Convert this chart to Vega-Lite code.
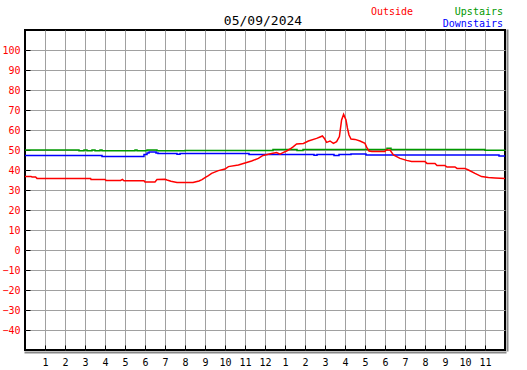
{
  "$schema": "https://vega.github.io/schema/vega-lite/v6.json",
  "width": 480,
  "height": 320,
  "autosize": {"type": "none"},
  "padding": {"left": 25, "top": 30, "right": 22, "bottom": 20},
  "background": "white",
  "config": {"view": {"stroke": "black", "strokeWidth": 2}, "font": "DejaVu Sans Mono"},
  "datasets": {
    "upstairs": [
      {"h": 0, "v": 50.0}, {"h": 2.7, "v": 49.6}, {"h": 2.95, "v": 50.0}, {"h": 3.1, "v": 49.6}, {"h": 3.35, "v": 50.0}, {"h": 3.5, "v": 49.6}, {"h": 3.75, "v": 50.0}, {"h": 3.85, "v": 49.6}, {"h": 5.5, "v": 50.0}, {"h": 5.6, "v": 49.6}, {"h": 6.1, "v": 50.0}, {"h": 6.6, "v": 49.6}, {"h": 8.0, "v": 49.8}, {"h": 12.4, "v": 50.3}, {"h": 13.6, "v": 49.8}, {"h": 13.9, "v": 50.3}, {"h": 18.1, "v": 50.9}, {"h": 18.3, "v": 50.3}, {"h": 23.0, "v": 49.9}, {"h": 24, "v": 49.9}
    ],
    "downstairs": [
      {"h": 0, "v": 47.3}, {"h": 3.85, "v": 46.8}, {"h": 5.95, "v": 47.8}, {"h": 6.1, "v": 48.5}, {"h": 6.2, "v": 49.0}, {"h": 6.55, "v": 48.5}, {"h": 6.65, "v": 48.2}, {"h": 7.6, "v": 47.9}, {"h": 7.75, "v": 48.2}, {"h": 11.2, "v": 47.8}, {"h": 14.45, "v": 47.4}, {"h": 14.6, "v": 47.8}, {"h": 15.45, "v": 47.3}, {"h": 15.7, "v": 47.8}, {"h": 16.3, "v": 48.0}, {"h": 17.05, "v": 47.5}, {"h": 23.7, "v": 47.0}, {"h": 24, "v": 47.0}
    ],
    "outside": [
      {"h": 0, "v": 36.8}, {"h": 0.3, "v": 36.8}, {"h": 0.35, "v": 36.5}, {"h": 0.53, "v": 36.5}, {"h": 0.6, "v": 35.8}, {"h": 3.28, "v": 35.8}, {"h": 3.3, "v": 35.3}, {"h": 4.0, "v": 35.3}, {"h": 4.05, "v": 34.8}, {"h": 4.78, "v": 34.8}, {"h": 4.87, "v": 35.3}, {"h": 4.95, "v": 34.6}, {"h": 5.95, "v": 34.6}, {"h": 6.0, "v": 34.0}, {"h": 6.5, "v": 34.0}, {"h": 6.6, "v": 35.2}, {"h": 7.0, "v": 35.4}, {"h": 7.1, "v": 35.0}, {"h": 7.3, "v": 34.4}, {"h": 7.6, "v": 33.7}, {"h": 8.4, "v": 33.8}, {"h": 8.7, "v": 34.5}, {"h": 8.85, "v": 35.2}, {"h": 9.0, "v": 36.2}, {"h": 9.17, "v": 37.2}, {"h": 9.33, "v": 38.3}, {"h": 9.67, "v": 39.7}, {"h": 10.0, "v": 40.5}, {"h": 10.17, "v": 41.7}, {"h": 10.67, "v": 42.5}, {"h": 11.0, "v": 43.5}, {"h": 11.33, "v": 44.5}, {"h": 11.67, "v": 45.8}, {"h": 11.9, "v": 47.3}, {"h": 12.33, "v": 48.3}, {"h": 12.58, "v": 48.7}, {"h": 12.75, "v": 47.9}, {"h": 12.9, "v": 48.7}, {"h": 13.08, "v": 49.5}, {"h": 13.25, "v": 50.5}, {"h": 13.42, "v": 51.7}, {"h": 13.58, "v": 53.0}, {"h": 13.92, "v": 53.3}, {"h": 14.17, "v": 54.5}, {"h": 14.58, "v": 55.8}, {"h": 14.75, "v": 56.5}, {"h": 14.87, "v": 57.0}, {"h": 14.97, "v": 55.8}, {"h": 15.08, "v": 53.8}, {"h": 15.25, "v": 54.5}, {"h": 15.42, "v": 53.3}, {"h": 15.58, "v": 54.2}, {"h": 15.72, "v": 56.7}, {"h": 15.83, "v": 65.0}, {"h": 15.93, "v": 67.8}, {"h": 16.05, "v": 65.0}, {"h": 16.12, "v": 61.0}, {"h": 16.2, "v": 57.5}, {"h": 16.3, "v": 55.5}, {"h": 16.5, "v": 55.3}, {"h": 16.75, "v": 54.5}, {"h": 17.0, "v": 53.3}, {"h": 17.1, "v": 51.0}, {"h": 17.2, "v": 49.5}, {"h": 17.35, "v": 49.2}, {"h": 18.0, "v": 49.2}, {"h": 18.05, "v": 50.0}, {"h": 18.25, "v": 50.0}, {"h": 18.42, "v": 47.5}, {"h": 18.75, "v": 45.8}, {"h": 19.08, "v": 44.8}, {"h": 19.33, "v": 44.2}, {"h": 20.0, "v": 44.2}, {"h": 20.1, "v": 43.3}, {"h": 20.5, "v": 43.3}, {"h": 20.6, "v": 42.2}, {"h": 21.0, "v": 42.2}, {"h": 21.1, "v": 41.5}, {"h": 21.5, "v": 41.5}, {"h": 21.6, "v": 40.8}, {"h": 22.0, "v": 40.8}, {"h": 22.17, "v": 40.0}, {"h": 22.5, "v": 38.3}, {"h": 22.83, "v": 36.7}, {"h": 23.17, "v": 36.2}, {"h": 23.5, "v": 36.0}, {"h": 24, "v": 35.7}
    ]
  },
  "layer": [
    {
      "data": {"name": "upstairs"},
      "mark": {"type": "line", "interpolate": "step-after", "color": "#009900", "strokeWidth": 1.5},
      "encoding": {
        "x": {"field": "h", "type": "quantitative", "scale": {"domain": [0, 24], "nice": false, "zero": false},
          "axis": {"values": [1,2,3,4,5,6,7,8,9,10,11,12,13,14,15,16,17,18,19,20,21,22,23], "labelExpr": "datum.value == 12 ? '12' : '' + (datum.value % 12)", "title": null, "grid": true, "gridColor": "#a0a0a0", "gridWidth": 1, "gridOpacity": 1, "domain": false, "ticks": true, "tickColor": "black", "tickSize": -5, "tickWidth": 1, "labelPadding": 12, "labelFont": "DejaVu Sans Mono", "labelFontSize": 10, "labelColor": "black", "labelFlush": false, "labelOverlap": false}},
        "y": {"field": "v", "type": "quantitative", "scale": {"domain": [-50, 110], "nice": false, "zero": false},
          "axis": {"values": [-40,-30,-20,-10,0,10,20,30,40,50,60,70,80,90,100], "title": null, "grid": true, "gridColor": "#a0a0a0", "gridWidth": 1, "gridOpacity": 1, "domain": false, "ticks": true, "tickColor": "black", "tickSize": -5, "tickWidth": 1, "labelPadding": 10, "labelFont": "DejaVu Sans Mono", "labelFontSize": 10, "labelColor": "red", "labelFlush": false, "labelOverlap": false}}
      }
    },
    {
      "data": {"name": "downstairs"},
      "mark": {"type": "line", "interpolate": "step-after", "color": "#0000ff", "strokeWidth": 1.5},
      "encoding": {
        "x": {"field": "h", "type": "quantitative", "axis": {"orient": "bottom", "offset": 2, "domain": true, "domainColor": "#888888", "domainWidth": 2, "domainCap": "square", "ticks": false, "labels": false, "grid": false, "title": null}},
        "y": {"field": "v", "type": "quantitative", "axis": {"orient": "right", "offset": 2, "domain": true, "domainColor": "#888888", "domainWidth": 2, "domainCap": "square", "ticks": false, "labels": false, "grid": false, "title": null}}
      }
    },
    {
      "data": {"name": "outside"},
      "mark": {"type": "line", "color": "#ff0000", "strokeWidth": 1.5},
      "encoding": {
        "x": {"field": "h", "type": "quantitative", "axis": null},
        "y": {"field": "v", "type": "quantitative", "axis": null}
      }
    },
    {
      "data": {"values": [{}]},
      "mark": {"type": "text", "text": "05/09/2024", "color": "black", "font": "DejaVu Sans Mono", "fontSize": 13, "align": "center", "baseline": "alphabetic"},
      "encoding": {"x": {"datum": 11.9, "type": "quantitative", "axis": null}, "y": {"datum": 112.5, "type": "quantitative", "axis": null}}
    },
    {
      "data": {"values": [{}]},
      "mark": {"type": "text", "text": "Outside", "color": "red", "font": "DejaVu Sans Mono", "fontSize": 10, "align": "left", "baseline": "alphabetic"},
      "encoding": {"x": {"datum": 17.3, "type": "quantitative", "axis": null}, "y": {"datum": 117.5, "type": "quantitative", "axis": null}}
    },
    {
      "data": {"values": [{}]},
      "mark": {"type": "text", "text": "Upstairs", "color": "#009900", "font": "DejaVu Sans Mono", "fontSize": 10, "align": "right", "baseline": "alphabetic"},
      "encoding": {"x": {"datum": 23.9, "type": "quantitative", "axis": null}, "y": {"datum": 117.5, "type": "quantitative", "axis": null}}
    },
    {
      "data": {"values": [{}]},
      "mark": {"type": "text", "text": "Downstairs", "color": "#0000ff", "font": "DejaVu Sans Mono", "fontSize": 10, "align": "right", "baseline": "alphabetic"},
      "encoding": {"x": {"datum": 23.9, "type": "quantitative", "axis": null}, "y": {"datum": 111.7, "type": "quantitative", "axis": null}}
    }
  ],
  "resolve": {"axis": {"x": "independent", "y": "independent"}}
}
